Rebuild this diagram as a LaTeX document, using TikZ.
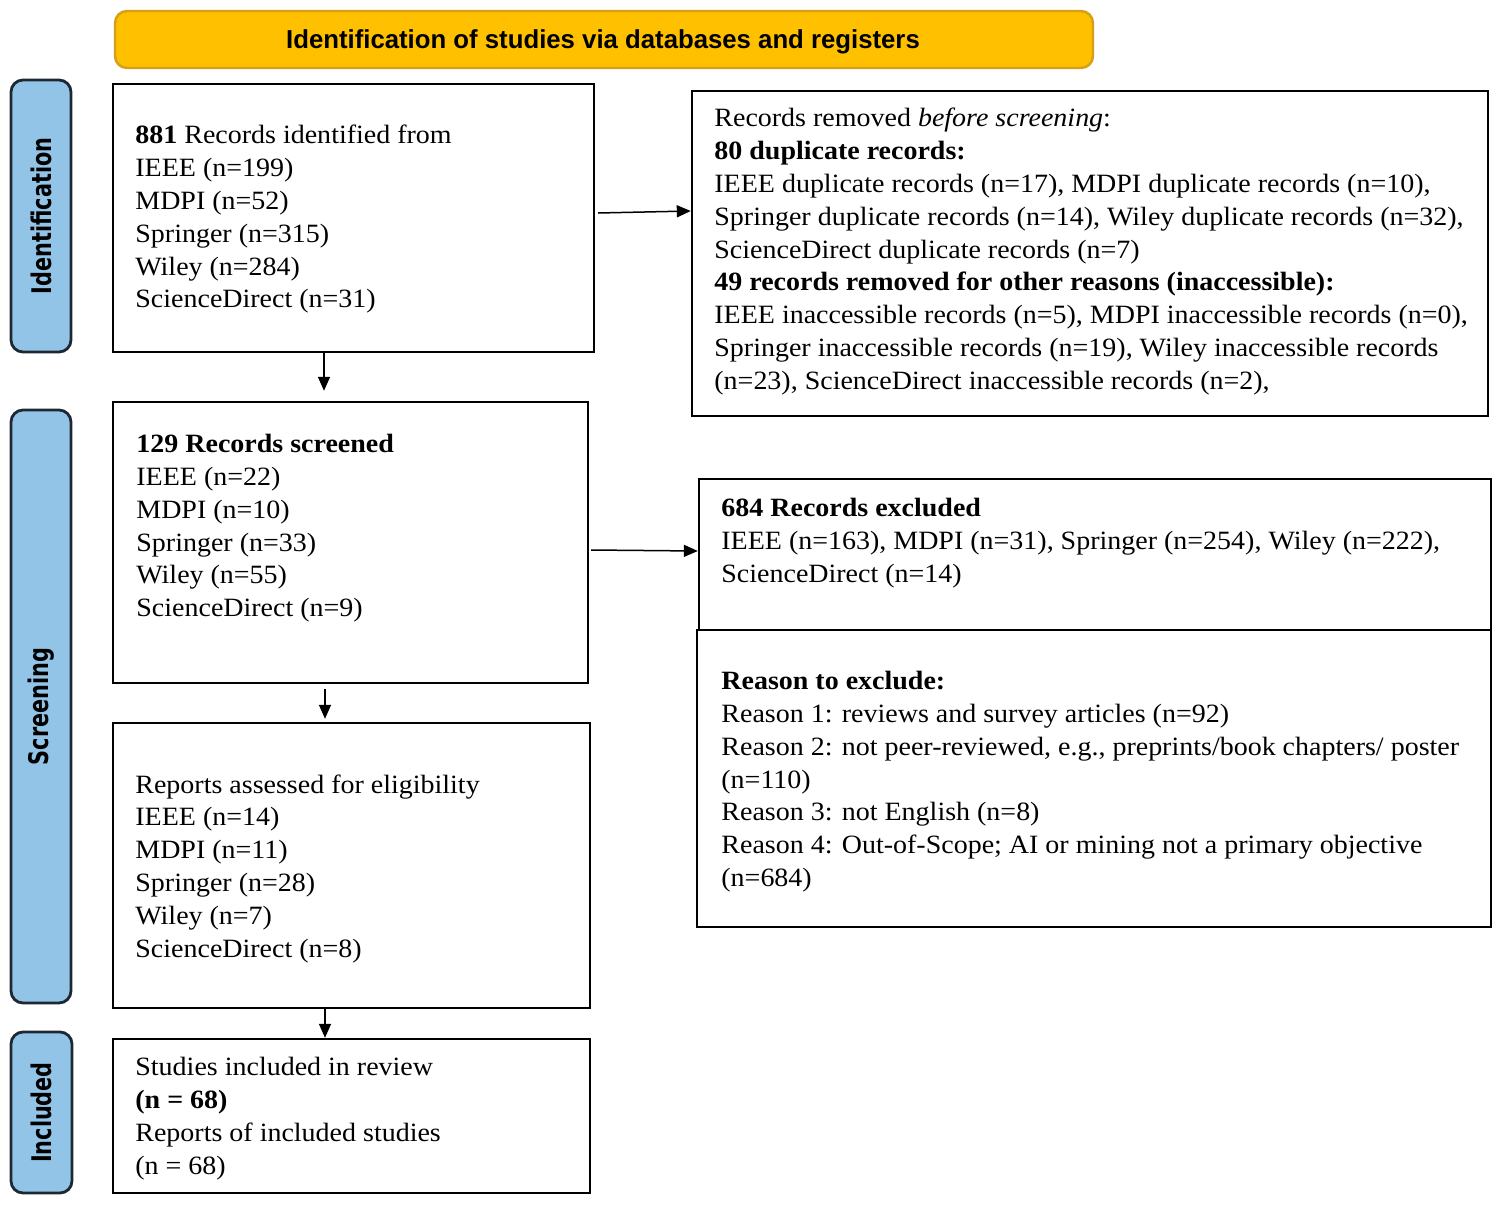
\documentclass[tikz,border=0pt]{standalone}
\usepackage{fontspec}
\usepackage{graphicx}
\usetikzlibrary{arrows.meta,fit}
\setmainfont{Liberation Serif}[FakeStretch=1.06]
\newfontfamily\hdrfont{Liberation Sans}
\newfontfamily\sidefont{DejaVu Sans}
\definecolor{hdrfill}{RGB}{255,192,0}
\definecolor{hdrline}{RGB}{214,160,20}
\definecolor{sidefill}{RGB}{146,196,232}
\definecolor{sideline}{RGB}{30,40,50}
\tikzset{
  box/.style={draw, line width=1.2pt, inner sep=0pt},
  txt/.style={anchor=north west, inner sep=0pt, align=left, font=\fontsize{13.2}{16.4}\selectfont},
  side/.style={draw=sideline, line width=1.4pt, fill=sidefill, rounded corners=6pt, inner sep=0pt},
  sidetxt/.style={rotate=90, inner sep=0pt, font=\sidefont\bfseries\fontsize{10.4}{12}\selectfont},
  arr/.style={line width=0.75pt, -{Triangle[length=7pt,width=6pt]}},
}
\begin{document}
\begin{tikzpicture}[x=0.5pt,y=-0.5pt]
\useasboundingbox (0,0) rectangle (1502,1204);
% header
\node[draw=hdrline, line width=1.2pt, fill=hdrfill, rounded corners=6pt, inner sep=0pt, fit={(115,11) (1093,68)}] (hdr) {};
\node[inner sep=0pt, font=\hdrfont\bfseries\fontsize{13}{13}\selectfont] (hdrt) at (603,42) {\scalebox{0.99}[1]{Identification of studies via databases and registers}};
% side labels
\node[side, fit={(11,80) (71,352)}] (sid) {};
\node[sidetxt] (sidt) at (sid.center) {\scalebox{1}[1.3]{Identification}};
\node[side, fit={(11,410) (71,1003)}] (sscr) {};
\node[sidetxt] (sscrt) at (sscr.center) {\scalebox{1}[1.3]{Screening}};
\node[side, fit={(11,1032) (72,1193)}] (sinc) {};
\node[sidetxt] (sinct) at (sinc.center) {\scalebox{1}[1.3]{Included}};
% boxes
\node[box, fit={(113,84) (594,352)}] (b1) {};
\node[box, fit={(692,91) (1488,416)}] (b2) {};
\node[box, fit={(113,402) (588,683)}] (b3) {};
\node[box, fit={(699,479) (1491,630)}] (b4) {};
\node[box, fit={(697,630) (1491,927)}] (b5) {};
\node[box, fit={(113,723) (590,1008)}] (b6) {};
\node[box, fit={(113,1039) (590,1193)}] (b7) {};
% texts
\node[txt] (t1) at (135,125) {\textbf{881} Records identified from\\IEEE (n=199)\\MDPI (n=52)\\Springer (n=315)\\Wiley (n=284)\\ScienceDirect (n=31)};
\node[txt] (t2) at (714,108) {Records removed \textit{before screening}:\\
\textbf{80 duplicate records:}\\
IEEE duplicate records (n=17), MDPI duplicate records (n=10),\\
Springer duplicate records (n=14), Wiley duplicate records (n=32),\\
ScienceDirect duplicate records (n=7)\\
\textbf{49 records removed for other reasons (inaccessible):}\\
IEEE inaccessible records (n=5), MDPI inaccessible records (n=0),\\
Springer inaccessible records (n=19), Wiley inaccessible records\\
(n=23), ScienceDirect inaccessible records (n=2),};
\node[txt] (t3) at (136,434) {\textbf{129 Records screened}\\IEEE (n=22)\\MDPI (n=10)\\Springer (n=33)\\Wiley (n=55)\\ScienceDirect (n=9)};
\node[txt] (t4) at (721,498) {\textbf{684 Records excluded}\\IEEE (n=163), MDPI (n=31), Springer (n=254), Wiley (n=222),\\ScienceDirect (n=14)};
\node[txt] (t5) at (721,671) {\textbf{Reason to exclude:}\\
Reason 1: reviews and survey articles (n=92)\\
Reason 2: not peer-reviewed, e.g., preprints/book chapters/ poster\\
(n=110)\\
Reason 3: not English (n=8)\\
Reason 4: Out-of-Scope; AI or mining not a primary objective\\
(n=684)};
\node[txt] (t6) at (135,774) {Reports assessed for eligibility\\IEEE (n=14)\\MDPI (n=11)\\Springer (n=28)\\Wiley (n=7)\\ScienceDirect (n=8)};
\node[txt] (t7) at (135,1057) {Studies included in review\\\textbf{(n = 68)}\\Reports of included studies\\(n = 68)};
% arrows
\coordinate (ax1) at (324,0);
\coordinate (ax2) at (325,0);
\draw[arr, shorten >=5pt] (b1.south -| ax1) -- (b3.north -| ax1);
\draw[arr, shorten <=2.5pt, shorten >=1.5pt] (b3.south -| ax2) -- (b6.north -| ax2);
\draw[arr] (b6.south -| ax2) -- (b7.north -| ax2);
\draw[arr] ([xshift=1.5pt]b1.east |- 0,213) -- (b2.west |- 0,211);
\draw[arr] ([xshift=1pt]b3.east |- 0,550) -- (b4.west |- 0,551);
\end{tikzpicture}
\end{document}
